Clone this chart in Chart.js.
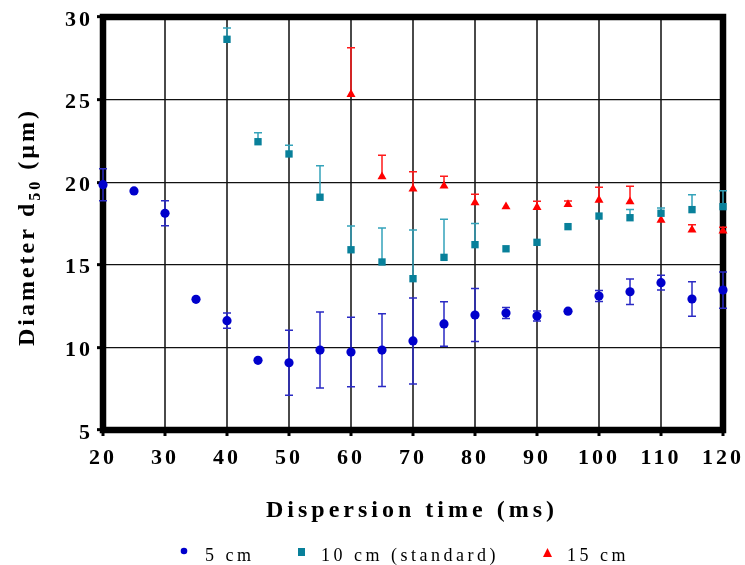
<!DOCTYPE html>
<html><head><meta charset="utf-8">
<script src="https://cdn.jsdelivr.net/npm/chart.js@4.4.0/dist/chart.umd.min.js"></script>
<style>html,body{margin:0;padding:0;background:#fff;}#wrap{width:745px;height:565px;}</style>
</head><body><div id="wrap"><canvas id="c" width="745" height="565"></canvas></div>
<script>
// ---- data ----
const seriesNames = ['5 cm', '10 cm (standard)', '15 cm'];
const times5 = [20, 25, 30, 35, 40, 45, 50, 55, 60, 65, 70, 75, 80, 85, 90, 95, 100, 105, 110, 115, 120];
const d50_5cm = [19.85, 19.47, 18.12, 12.91, 11.62, 9.22, 9.07, 9.84, 9.72, 9.84, 10.39, 11.42, 11.96, 12.08, 11.9, 12.19, 13.11, 13.37, 13.92, 12.93, 13.47];
const err_5cm = [0.97, null, 0.75, null, 0.46, null, 1.97, 2.3, 2.1, 2.2, 2.6, 1.35, 1.6, 0.33, 0.3, null, 0.33, 0.77, 0.45, 1.04, 1.1];
const times10 = [40, 45, 50, 55, 60, 65, 70, 75, 80, 85, 90, 95, 100, 105, 110, 115, 120];
const d50_10cm = [28.65, 22.45, 21.71, 19.09, 15.91, 15.17, 14.16, 15.45, 16.22, 15.97, 16.36, 17.31, 17.95, 17.85, 18.12, 18.34, 18.52];
const errPlus_10cm = [0.68, 0.55, 0.52, 1.91, 1.44, 2.06, 2.95, 2.3, 1.28, null, null, null, null, 0.49, 0.32, 0.9, 0.97];
const times15 = [60, 65, 70, 75, 80, 85, 90, 95, 100, 105, 110, 115, 120];
const d50_15cm = [25.32, 20.33, 19.59, 19.77, 18.76, 18.52, 18.48, 18.66, 18.92, 18.82, 17.71, 17.11, 17.05];
const errPlus_15cm = [2.82, 1.3, 1.05, 0.59, 0.51, null, 0.36, 0.2, 0.77, 0.93, null, 0.32, 0.22];
const xRange = [20, 120];
const xStep = 10;
const yRange = [5, 30];
const yStep = 5;
const xTitle = 'Dispersion time (ms)';
const yTitleMain = 'Diameter d';
const yTitleSub = '50';
const yTitleEnd = ' (\u00B5m)';

// ---- styling ----
const SERIF = '"Liberation Serif", "Times New Roman", serif';
const COLORS = ['#0000cc', '#08809a', '#ff0000'];
const ERR_COLORS = ['#2a2ac4', '#35a3ba', '#ff1a1a'];
const TICK_LS = '3px';

function pts(xs, ys) { return xs.map((x, i) => ({ x: x, y: ys[i] })); }

const spacingPlugin = {
  id: 'spacing',
  beforeUpdate(c) { c.ctx.letterSpacing = TICK_LS; },
  beforeLayout(c) { c.ctx.letterSpacing = TICK_LS; },
  beforeDraw(c) { c.ctx.letterSpacing = TICK_LS; }
};

const framePlugin = {
  id: 'frameAndErrors',
  beforeDatasetsDraw(chart) {
    const ctx = chart.ctx, a = chart.chartArea, xs = chart.scales.x, ys = chart.scales.y;
    ctx.save();
    ctx.lineWidth = 6.5;
    ctx.strokeStyle = '#000';
    ctx.strokeRect(a.left, a.top, a.right - a.left, a.bottom - a.top);
    chart.data.datasets.forEach((ds, i) => {
      ctx.strokeStyle = ERR_COLORS[i];
      ctx.lineWidth = 1.5;
      ds.data.forEach((p, j) => {
        const ep = ds.errPlus ? ds.errPlus[j] : null;
        const em = ds.errMinus ? ds.errMinus[j] : null;
        if (ep == null && em == null) return;
        const px = xs.getPixelForValue(p.x);
        const yt = ys.getPixelForValue(p.y + (ep || 0));
        const yb = ys.getPixelForValue(p.y - (em || 0));
        ctx.beginPath();
        ctx.moveTo(px, yt); ctx.lineTo(px, yb);
        if (ep != null) { ctx.moveTo(px - 4, yt); ctx.lineTo(px + 4, yt); }
        if (em != null) { ctx.moveTo(px - 4, yb); ctx.lineTo(px + 4, yb); }
        ctx.stroke();
      });
    });
    ctx.restore();
  },
  afterDraw(chart) {
    const ctx = chart.ctx, a = chart.chartArea;
    ctx.save();
    ctx.fillStyle = '#000';
    // x title
    ctx.letterSpacing = '4px';
    ctx.font = 'bold 24px ' + SERIF;
    ctx.textAlign = 'center';
    ctx.textBaseline = 'alphabetic';
    ctx.fillText(xTitle, (a.left + a.right) / 2 - 1, 517);
    // y title rotated
    ctx.save();
    ctx.translate(34, 227);
    ctx.rotate(-Math.PI / 2);
    ctx.letterSpacing = '3px';
    ctx.textAlign = 'left';
    ctx.font = 'bold 24px ' + SERIF;
    const w1 = ctx.measureText(yTitleMain).width;
    ctx.font = 'bold 16px ' + SERIF;
    const w2 = ctx.measureText(yTitleSub).width;
    ctx.font = 'bold 24px ' + SERIF;
    const w3 = ctx.measureText(yTitleEnd).width;
    let x0 = -(w1 + w2 + w3) / 2;
    ctx.fillText(yTitleMain, x0, 0);
    ctx.font = 'bold 16px ' + SERIF;
    ctx.fillText(yTitleSub, x0 + w1, 6);
    ctx.font = 'bold 24px ' + SERIF;
    ctx.fillText(yTitleEnd, x0 + w1 + w2, 0);
    ctx.restore();
    // legend
    ctx.letterSpacing = '3.5px';
    ctx.font = '18px ' + SERIF;
    ctx.textAlign = 'left';
    ctx.textBaseline = 'alphabetic';
    const items = [
      { mx: 184, my: 551, tx: 205, style: 'circle' },
      { mx: 301.5, my: 552, tx: 321, style: 'rect' },
      { mx: 547.5, my: 553, tx: 567, style: 'triangle' }
    ];
    items.forEach((it, i) => {
      ctx.fillStyle = COLORS[i];
      ctx.beginPath();
      if (it.style === 'circle') { ctx.arc(it.mx, it.my, 3.3, 0, Math.PI * 2); }
      else if (it.style === 'rect') { ctx.rect(it.mx - 3.5, it.my - 4, 7, 8); }
      else { ctx.moveTo(it.mx, it.my - 5); ctx.lineTo(it.mx + 4.5, it.my + 4); ctx.lineTo(it.mx - 4.5, it.my + 4); ctx.closePath(); }
      ctx.fill();
      ctx.fillStyle = '#000';
      ctx.fillText(seriesNames[i], it.tx, 561);
    });
    ctx.restore();
  }
};

const tickFont = { family: SERIF, size: 22, weight: 'bold' };

new Chart(document.getElementById('c'), {
  type: 'scatter',
  data: {
    datasets: [
      { label: seriesNames[0], data: pts(times5, d50_5cm), errPlus: err_5cm, errMinus: err_5cm,
        pointStyle: 'circle', pointRadius: 4.6, backgroundColor: COLORS[0], borderColor: COLORS[0], borderWidth: 0, clip: false },
      { label: seriesNames[1], data: pts(times10, d50_10cm), errPlus: errPlus_10cm, errMinus: null,
        pointStyle: 'rect', pointRadius: 5.2, backgroundColor: COLORS[1], borderColor: COLORS[1], borderWidth: 0, clip: false },
      { label: seriesNames[2], data: pts(times15, d50_15cm), errPlus: errPlus_15cm, errMinus: null,
        pointStyle: 'triangle', pointRadius: 5.2, backgroundColor: COLORS[2], borderColor: COLORS[2], borderWidth: 0, clip: false }
    ]
  },
  options: {
    responsive: false,
    devicePixelRatio: 1,
    animation: false,
    events: [],
    layout: { padding: { top: 17, right: 22, bottom: 0, left: 0 } },
    plugins: { legend: { display: false }, tooltip: { enabled: false }, title: { display: false } },
    scales: {
      x: {
        type: 'linear', min: xRange[0], max: xRange[1],
        afterFit(s) { s.height = 135; s.paddingLeft = 0; s.paddingRight = 0; },
        ticks: { stepSize: xStep, font: tickFont, color: '#000', padding: 9, maxRotation: 0, autoSkip: false },
        grid: { color: '#4a4a4a', lineWidth: 2, tickLength: 6, tickWidth: 3, tickColor: '#000' },
        border: { display: false }
      },
      y: {
        type: 'linear', min: yRange[0], max: yRange[1],
        afterFit(s) { s.width = 103; s.paddingTop = 0; s.paddingBottom = 0; },
        ticks: { stepSize: yStep, font: tickFont, color: '#000', padding: 4, labelOffset: 3 },
        grid: { color: '#111', lineWidth: 1.3, tickLength: 6, tickWidth: 3, tickColor: '#000' },
        border: { display: false }
      }
    }
  },
  plugins: [spacingPlugin, framePlugin]
});
</script>
</body></html>
